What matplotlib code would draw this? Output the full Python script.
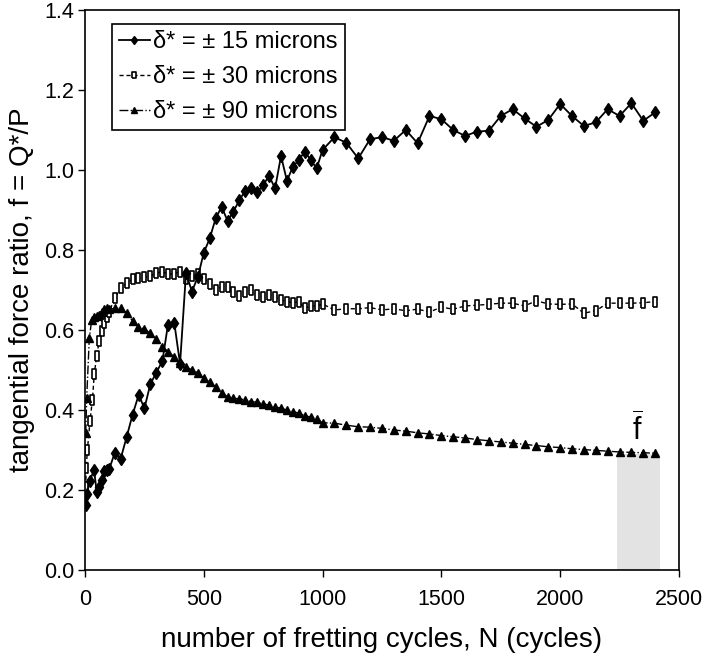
import numpy as np
import matplotlib
matplotlib.use('Agg')
import matplotlib.pyplot as plt

plt.rcParams['font.family'] = ['Liberation Sans', 'DejaVu Sans']
plt.rcParams['mathtext.fontset'] = 'custom'
plt.rcParams['mathtext.rm'] = 'Liberation Sans'
plt.rcParams['mathtext.it'] = 'Liberation Sans'

# delta* = +-15 microns
n15 = [3, 8, 20, 38, 49, 60, 70, 80, 91, 102, 125, 150, 175, 200, 226, 250, 275, 300,
       326, 349, 376, 400, 425, 450, 475, 500, 525, 550, 575, 600, 625, 650, 675, 700,
       725, 750, 775, 800, 825, 850, 875, 900, 925, 950, 975, 1000, 1050, 1100, 1150,
       1200, 1250, 1300, 1350, 1400, 1450, 1500, 1550, 1600, 1650, 1700, 1750, 1800,
       1850, 1900, 1950, 2000, 2050, 2100, 2150, 2200, 2250, 2300, 2350, 2400]
f15 = [0.162, 0.19, 0.223, 0.25, 0.196, 0.208, 0.225, 0.248, 0.25, 0.252, 0.293, 0.278,
       0.332, 0.388, 0.438, 0.404, 0.465, 0.493, 0.523, 0.613, 0.617, 0.515, 0.743, 0.696,
       0.733, 0.793, 0.829, 0.879, 0.908, 0.873, 0.896, 0.925, 0.948, 0.954, 0.944, 0.963,
       0.985, 0.954, 1.035, 0.973, 1.008, 1.025, 1.046, 1.025, 1.004, 1.05, 1.082, 1.068,
       1.029, 1.077, 1.082, 1.073, 1.10, 1.067, 1.135, 1.127, 1.10, 1.085, 1.096, 1.098,
       1.135, 1.152, 1.129, 1.108, 1.125, 1.165, 1.135, 1.11, 1.119, 1.152, 1.135, 1.167,
       1.123, 1.144]

# delta* = +-30 microns
n30 = [3, 5, 10, 21, 31, 39, 49, 60, 70, 80, 91, 102, 125, 150, 175, 200, 225, 250, 275,
       300, 325, 350, 375, 400, 425, 450, 475, 500, 525, 550, 575, 600, 625, 650, 675, 700,
       725, 750, 775, 800, 825, 850, 875, 900, 925, 950, 975, 1000, 1050, 1100, 1150, 1200,
       1250, 1300, 1350, 1400, 1450, 1500, 1550, 1600, 1650, 1700, 1750, 1800, 1850, 1900,
       1950, 2000, 2050, 2100, 2150, 2200, 2250, 2300, 2350, 2400]
f30 = [0.208, 0.254, 0.30, 0.373, 0.425, 0.49, 0.535, 0.573, 0.598, 0.617, 0.632, 0.646,
       0.679, 0.704, 0.717, 0.727, 0.729, 0.732, 0.735, 0.742, 0.746, 0.74, 0.74, 0.746,
       0.727, 0.735, 0.741, 0.728, 0.716, 0.70, 0.708, 0.708, 0.696, 0.685, 0.696, 0.70,
       0.688, 0.683, 0.688, 0.682, 0.675, 0.671, 0.668, 0.671, 0.654, 0.66, 0.66, 0.665,
       0.65, 0.653, 0.653, 0.656, 0.65, 0.653, 0.648, 0.652, 0.645, 0.657, 0.652, 0.66,
       0.662, 0.664, 0.667, 0.667, 0.66, 0.673, 0.665, 0.664, 0.665, 0.642, 0.648, 0.667,
       0.667, 0.667, 0.668, 0.671]

# delta* = +-90 microns
n90 = [3, 7, 18, 28, 38, 49, 60, 70, 80, 91, 102, 125, 150, 175, 200, 225, 250, 275, 300,
       325, 350, 375, 400, 425, 450, 475, 500, 525, 550, 575, 600, 625, 650, 675, 700, 725,
       750, 775, 800, 825, 850, 875, 900, 925, 950, 975, 1000, 1050, 1100, 1150, 1200, 1250,
       1300, 1350, 1400, 1450, 1500, 1550, 1600, 1650, 1700, 1750, 1800, 1850, 1900, 1950,
       2000, 2050, 2100, 2150, 2200, 2250, 2300, 2350, 2400]
f90 = [0.342, 0.43, 0.579, 0.625, 0.632, 0.634, 0.637, 0.646, 0.652, 0.654, 0.652, 0.654,
       0.654, 0.642, 0.623, 0.608, 0.602, 0.592, 0.577, 0.558, 0.546, 0.533, 0.517, 0.508,
       0.50, 0.493, 0.479, 0.470, 0.458, 0.443, 0.433, 0.429, 0.428, 0.425, 0.421, 0.419,
       0.415, 0.4125, 0.408, 0.404, 0.40, 0.396, 0.392, 0.386, 0.382, 0.377, 0.368, 0.367,
       0.362, 0.358, 0.357, 0.354, 0.350, 0.347, 0.343, 0.340, 0.336, 0.333, 0.330, 0.326,
       0.323, 0.320, 0.317, 0.314, 0.311, 0.308, 0.306, 0.303, 0.301, 0.299, 0.297, 0.295,
       0.294, 0.293, 0.292]

labels = ['δ* = ± 15 microns', 'δ* = ± 30 microns', 'δ* = ± 90 microns']

# averaging window for f-bar
avg_start, avg_end, avg_level = 2240, 2420, 0.29

# tall rectangle marker like the original
rect = [(-0.55, -1), (0.55, -1), (0.55, 1), (-0.55, 1), (-0.55, -1)]

fig = plt.figure(figsize=(7.05, 6.64), dpi=100)
ax = fig.add_axes([0.1206, 0.1416, 0.8424, 0.8434])

ax.fill_between([avg_start, avg_end], 0, avg_level, color='#e3e3e3', lw=0, zorder=0)

ax.plot(n15, f15, '-', color='black', lw=1.3, marker='d', ms=6, mfc='black', mec='black',
        label=labels[0], zorder=3)
ax.plot(n30, f30, '--', color='black', lw=1.0, marker=rect, ms=6.5, mfc='white', mec='black',
        mew=1.2, dashes=(3, 2), label=labels[1], zorder=2)
ax.plot(n90, f90, '-.', color='black', lw=1.0, marker='^', ms=5.5, mfc='black', mec='black',
        label=labels[2], zorder=2)

ax.text(2325, 0.305, r'$\overline{\mathrm{f}}$', fontsize=22, ha='center', va='bottom')

ax.set_xlim(0, 2500)
ax.set_ylim(0, 1.4)
ax.set_xticks(np.arange(0, 2501, 500))
ax.set_yticks(np.arange(0, 1.41, 0.2))
ax.set_yticklabels(['%.1f' % v for v in np.arange(0, 1.41, 0.2)])
ax.tick_params(direction='out', length=5, width=1, labelsize=15.5, pad=3)
ax.tick_params(axis='x', pad=9)
for s in ax.spines.values():
    s.set_linewidth(1.2)

ax.set_xlabel('number of fretting cycles, N (cycles)', fontsize=20, labelpad=12)
ax.set_ylabel('tangential force ratio, f = Q*/P', fontsize=20, labelpad=6)

leg = ax.legend(loc='upper left', bbox_to_anchor=(0.045, 0.975), fontsize=17, frameon=True,
                fancybox=False, edgecolor='black', framealpha=1, handlelength=1.3,
                handletextpad=0.15, borderpad=0.3, labelspacing=0.55, markerscale=0.75,
                borderaxespad=0)
leg.get_frame().set_linewidth(1.2)

fig.savefig('out.png', dpi=100)
